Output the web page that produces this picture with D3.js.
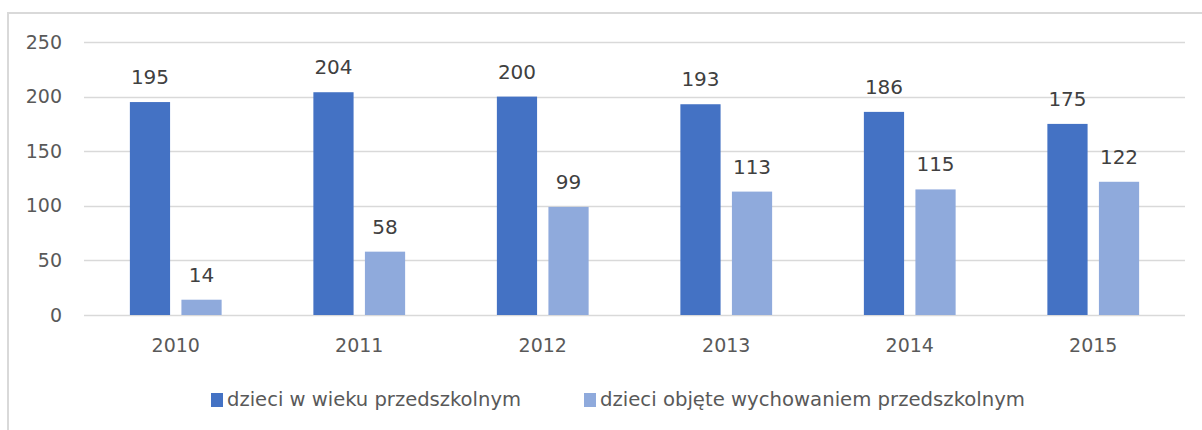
<!DOCTYPE html>
<html>
<head>
<meta charset="utf-8">
<script src="https://cdn.jsdelivr.net/npm/d3@7"></script>
<style>
  body { margin: 0; background: #fff; }
  svg { display: block; }
</style>
</head>
<body>
<div id="chart"></div>
<script>
// data
var years = ["2010", "2011", "2012", "2013", "2014", "2015"];
var seriesNames = ["dzieci w wieku przedszkolnym", "dzieci objęte wychowaniem przedszkolnym"];
var ageValues = [195, 204, 200, 193, 186, 175];
var coveredValues = [14, 58, 99, 113, 115, 122];
var yTicks = [0, 50, 100, 150, 200, 250];
var colors = ["#4472c4", "#8faadc"];

var W = 1202, H = 430;
var margin = {top: 42, right: 17, bottom: 115, left: 84};
var width = W - margin.left - margin.right;
var height = H - margin.top - margin.bottom;
var font = "'DejaVu Sans', Verdana, sans-serif";

var svg = d3.select("#chart").append("svg")
    .attr("width", W)
    .attr("height", H);

// outer frame (cut off at right and bottom)
svg.append("path")
    .attr("d", "M8,430 L8,13 L1202,13")
    .attr("fill", "none")
    .attr("stroke", "#d9d9d9")
    .attr("stroke-width", 2);

var g = svg.append("g")
    .attr("transform", "translate(" + margin.left + "," + margin.top + ")");

var x = d3.scaleBand()
    .domain(years)
    .range([0, width])
    .paddingInner(0.5)
    .paddingOuter(0.25);

var x1 = d3.scaleBand()
    .domain([0, 1])
    .range([0, x.bandwidth()])
    .paddingInner(0.22);

var y = d3.scaleLinear()
    .domain([0, 250])
    .range([height, 0]);

// gridlines
g.selectAll(".grid")
    .data(yTicks)
    .enter()
    .append("line")
    .attr("class", "grid")
    .attr("x1", 0)
    .attr("x2", width)
    .attr("y1", function (d) { return Math.round(y(d)) + 0.5; })
    .attr("y2", function (d) { return Math.round(y(d)) + 0.5; })
    .attr("stroke", "#d9d9d9")
    .attr("stroke-width", 1.3);

// y labels
var yAxis = g.append("g")
    .call(d3.axisLeft(y).tickValues(yTicks).tickSize(0).tickPadding(22));
yAxis.select(".domain").remove();
yAxis.selectAll("text")
    .attr("fill", "#595959")
    .style("font-family", font)
    .style("font-size", "19px");

// x labels
var xAxis = g.append("g")
    .attr("transform", "translate(0," + height + ")")
    .call(d3.axisBottom(x).tickSize(0).tickPadding(24));
xAxis.select(".domain").remove();
xAxis.selectAll("text")
    .attr("fill", "#595959")
    .style("font-family", font)
    .style("font-size", "19px");

var rows = [];
years.forEach(function (yr, i) {
    rows.push({year: yr, s: 0, v: ageValues[i]});
    rows.push({year: yr, s: 1, v: coveredValues[i]});
});

g.selectAll(".bar")
    .data(rows)
    .enter()
    .append("rect")
    .attr("class", "bar")
    .attr("x", function (d) { return x(d.year) + x1(d.s); })
    .attr("y", function (d) { return y(d.v); })
    .attr("width", x1.bandwidth())
    .attr("height", function (d) { return height - y(d.v); })
    .attr("fill", function (d) { return colors[d.s]; });

g.selectAll(".val")
    .data(rows)
    .enter()
    .append("text")
    .attr("class", "val")
    .attr("x", function (d) { return x(d.year) + x1(d.s) + x1.bandwidth() / 2; })
    .attr("y", function (d) { return y(d.v) - 18; })
    .attr("text-anchor", "middle")
    .attr("fill", "#404040")
    .style("font-family", font)
    .style("font-size", "20px")
    .text(function (d) { return d.v; });

// legend
var legendX = [211, 584];
var legendW = [294, 425];
var legend = svg.selectAll(".legend")
    .data(seriesNames)
    .enter()
    .append("g")
    .attr("class", "legend")
    .attr("transform", function (d, i) { return "translate(" + legendX[i] + ",393)"; });

legend.append("rect")
    .attr("width", 12)
    .attr("height", 14)
    .attr("fill", function (d, i) { return colors[i]; });

legend.append("text")
    .attr("x", 16)
    .attr("y", 13)
    .attr("fill", "#595959")
    .attr("textLength", function (d, i) { return legendW[i]; })
    .attr("lengthAdjust", "spacingAndGlyphs")
    .style("font-family", "'Liberation Sans Narrow', 'DejaVu Sans Condensed', Arial, sans-serif")
    .style("font-size", "19px")
    .text(function (d) { return d; });
</script>
</body>
</html>
